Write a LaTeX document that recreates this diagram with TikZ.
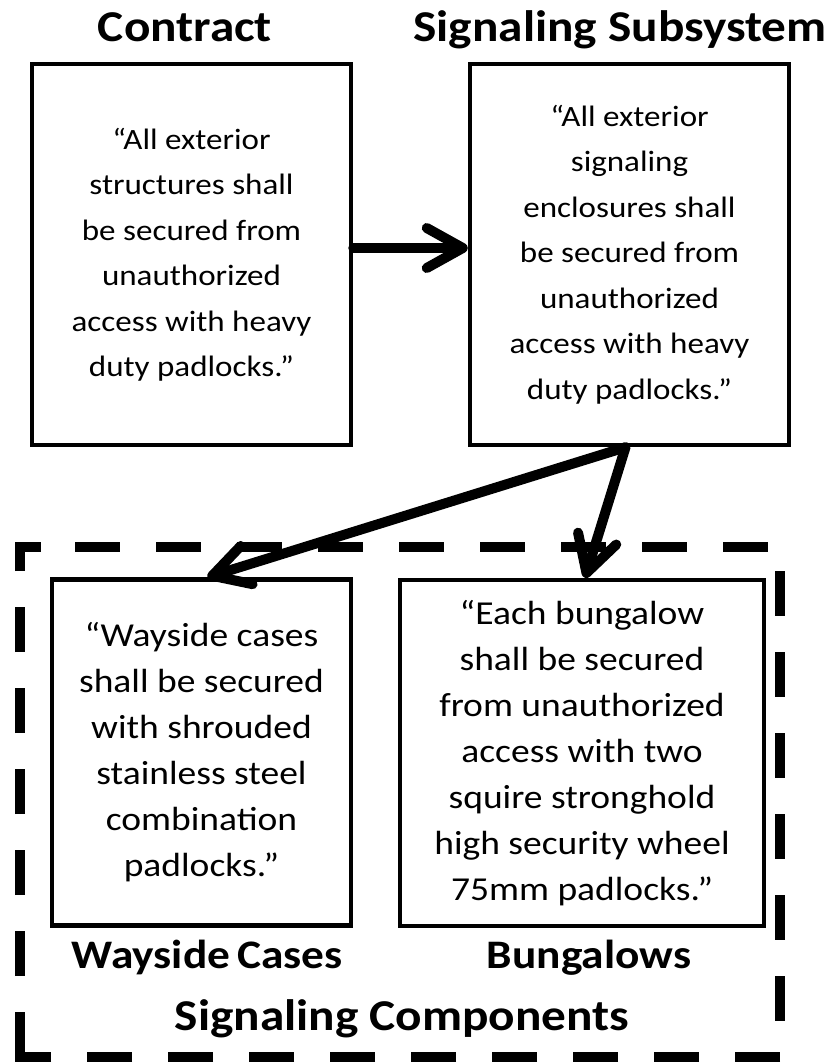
\documentclass[tikz,border=0pt]{standalone}
\usepackage{fontspec}
\setmainfont{Carlito}[FakeStretch=1.12]
\usetikzlibrary{arrows.meta}

\begin{document}
\begin{tikzpicture}[x=1pt,y=-1pt,
  box/.style={draw, line width=4.5pt, inner sep=0pt, align=center},
  upperbox/.style={box, minimum width=319pt, minimum height=381pt,
    font=\fontsize{29.5}{45.5}\selectfont},
  lowerbox/.style={box, minimum height=346pt,
    font=\fontsize{33.5}{46}\selectfont},
  heading/.style={font=\bfseries\fontsize{44}{52}\selectfont,
    anchor=base, inner sep=0pt},
  subheading/.style={heading, font=\bfseries\fontsize{40.5}{48}\selectfont},
  link/.style={line width=10pt, line cap=round,
    -{Straight Barb[length=36pt,width=40pt,round]}},
  frameline/.style={line width=10.5pt, dash pattern=on 45pt off 36pt}
]
\useasboundingbox (0,0) rectangle (832,1062);

% requirement boxes
\node[upperbox] (contract) at (191.5,254.5)
  {``All exterior\\structures shall\\be secured from\\unauthorized\\access with heavy\\duty padlocks.''};
\node[upperbox] (subsys) at (629.5,254.5)
  {``All exterior\\signaling\\enclosures shall\\be secured from\\unauthorized\\access with heavy\\duty padlocks.''};
\node[lowerbox, minimum width=299pt] (wayside) at (201.5,752.5)
  {``Wayside cases\\shall be secured\\with shrouded\\stainless steel\\combination\\padlocks.''};
\node[lowerbox, minimum width=364pt] (bungalow) at (582,753)
  {``Each bungalow\\shall be secured\\from unauthorized\\access with two\\squire stronghold\\high security wheel\\75mm padlocks.''};

% headings
\node[heading] (hcontract) at (185,42) {Contract};
\node[heading] (hsubsys) at (620,42) {Signaling Subsystem};
\node[subheading] (hwayside) at (207,968) {Wayside\,Cases};
\node[subheading] (hbungalow) at (589,968) {Bungalows};
\node[heading] (hcomp) at (402,1030) {Signaling Components};

% flow-down arrows
\draw[link] ([yshift=6.5pt]contract.east) -- ([yshift=6.5pt]subsys.west);
\draw[link] ([xshift=-4pt]subsys.south) -- ([xshift=6pt]wayside.north);
\draw[link] ([xshift=-4pt]subsys.south) -- ([xshift=3pt]bungalow.north);

% dashed grouping frame
\coordinate (fNW) at (20,547);
\coordinate (fNE) at (780,547);
\coordinate (fSE) at (780,1057);
\coordinate (fSW) at (20,1057);
\draw[frameline, dash phase=26pt] (fNW) -- (fNE) -- (fSE) -- (fSW) -- ++(0,-17);
\draw[frameline] (fSW) -- (fNW) -- ++(40,0);
\end{tikzpicture}
\end{document}
